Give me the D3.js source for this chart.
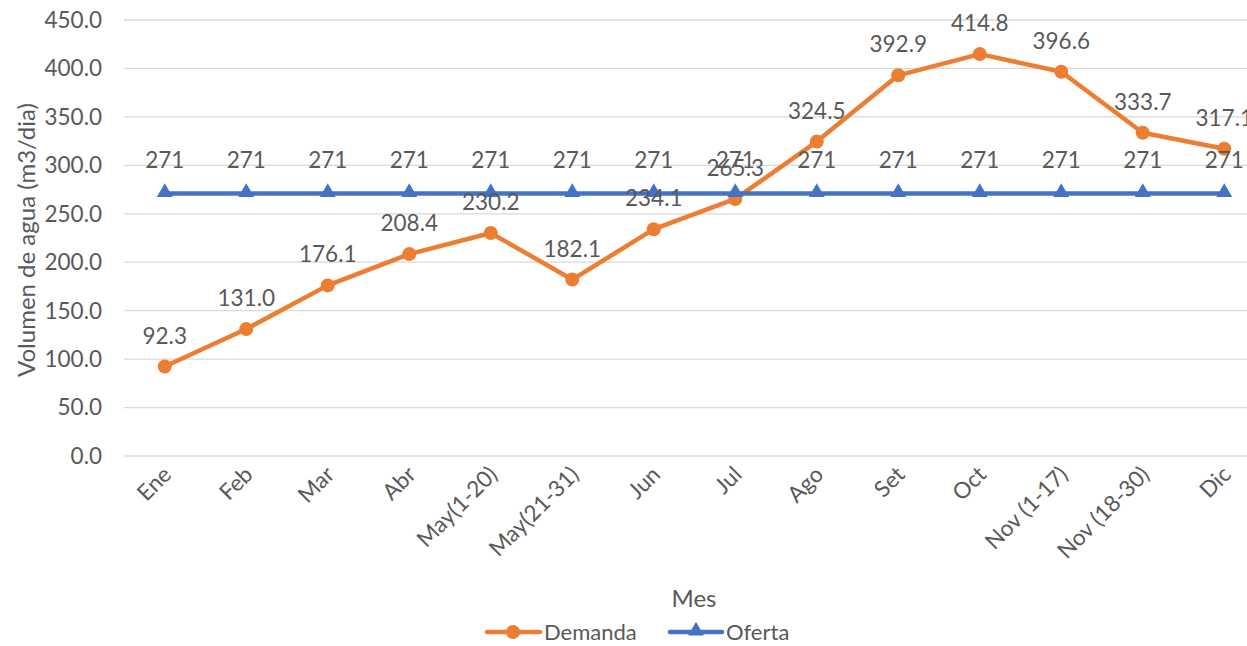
<!DOCTYPE html>
<html><head><meta charset="utf-8">
<script src="https://cdn.jsdelivr.net/npm/d3@7"></script>
<style>
body{margin:0;background:#fff;}
svg{display:block;font-family:Lato,"Open Sans",sans-serif;}
</style></head>
<body><svg id="c" width="1247" height="646"></svg>
<script>
const categories = ["Ene","Feb","Mar","Abr","May(1-20)","May(21-31)","Jun","Jul","Ago","Set","Oct","Nov (1-17)","Nov (18-30)","Dic"];
const demanda = [92.3,131.0,176.1,208.4,230.2,182.1,234.1,265.3,324.5,392.9,414.8,396.6,333.7,317.1];
const oferta = [271,271,271,271,271,271,271,271,271,271,271,271,271,271];
const yTicks = [0,50,100,150,200,250,300,350,400,450];

const svg = d3.select("#c");
const txt = "#595959";
const x = d3.scalePoint().domain(categories).range([124,1265]).padding(0.5);
const y = d3.scaleLinear().domain([0,450]).range([456,20]);

// gridlines
svg.append("g").selectAll("line").data(yTicks).join("line")
  .attr("x1",124).attr("x2",1265).attr("y1",d=>y(d)).attr("y2",d=>y(d))
  .attr("stroke","#d9d9d9").attr("stroke-width",1.3);

// y tick labels
svg.append("g").selectAll("text").data(yTicks).join("text")
  .attr("x",102).attr("y",d=>y(d)).attr("dy","0.35em").attr("text-anchor","end")
  .attr("fill",txt).attr("font-size",22.5).text(d=>d.toFixed(1));

// x tick labels
svg.append("g").selectAll("text").data(categories).join("text")
  .attr("transform",d=>`translate(${x(d)+8},${476}) rotate(-45)`)
  .attr("text-anchor","end").attr("fill",txt).attr("font-size",22.5).text(d=>d);

// axis titles
svg.append("text").attr("transform","translate(35,240) rotate(-90)").attr("text-anchor","middle")
  .attr("fill",txt).attr("font-size",24).text("Volumen de agua (m3/dia)");
svg.append("text").attr("x",694).attr("y",607).attr("text-anchor","middle")
  .attr("fill",txt).attr("font-size",24).text("Mes");

const orange="#ED7D31", blue="#4472C4";
const line = d3.line().x((d,i)=>x(categories[i])).y(d=>y(d));
const tri = d3.symbol().type(d3.symbolTriangle).size(110);

// demanda
svg.append("path").datum(demanda).attr("d",line).attr("fill","none").attr("stroke",orange).attr("stroke-width",4.5).attr("stroke-linejoin","round");
svg.append("g").selectAll("circle").data(demanda).join("circle")
  .attr("cx",(d,i)=>x(categories[i])).attr("cy",d=>y(d)).attr("r",7).attr("fill",orange);
// oferta
svg.append("path").datum(oferta).attr("d",line).attr("fill","none").attr("stroke",blue).attr("stroke-width",4.5);
svg.append("g").selectAll("path").data(oferta).join("path")
  .attr("d",tri).attr("transform",(d,i)=>`translate(${x(categories[i])},${y(d)-1})`).attr("fill",blue);

// labels
svg.append("g").selectAll("text").data(oferta).join("text")
  .attr("x",(d,i)=>x(categories[i])).attr("y",d=>y(d)-25).attr("text-anchor","middle")
  .attr("fill",txt).attr("font-size",22.5).text(d=>d);
svg.append("g").selectAll("text").data(demanda).join("text")
  .attr("x",(d,i)=>x(categories[i])).attr("y",d=>y(d)-23).attr("text-anchor","middle")
  .attr("fill",txt).attr("font-size",22.5).text(d=>d.toFixed(1));

// legend
const lg = svg.append("g");
lg.append("line").attr("x1",487).attr("x2",540).attr("y1",632).attr("y2",632).attr("stroke",orange).attr("stroke-width",4.5).attr("stroke-linecap","round");
lg.append("circle").attr("cx",513).attr("cy",632).attr("r",7).attr("fill",orange);
lg.append("text").attr("x",544).attr("y",632).attr("dy","0.35em").attr("fill",txt).attr("font-size",22).text("Demanda");
lg.append("line").attr("x1",670).attr("x2",722).attr("y1",632).attr("y2",632).attr("stroke",blue).attr("stroke-width",4.5).attr("stroke-linecap","round");
lg.append("path").attr("d",tri).attr("transform","translate(696,631)").attr("fill",blue);
lg.append("text").attr("x",726).attr("y",632).attr("dy","0.35em").attr("fill",txt).attr("font-size",22).text("Oferta");
</script></body></html>
